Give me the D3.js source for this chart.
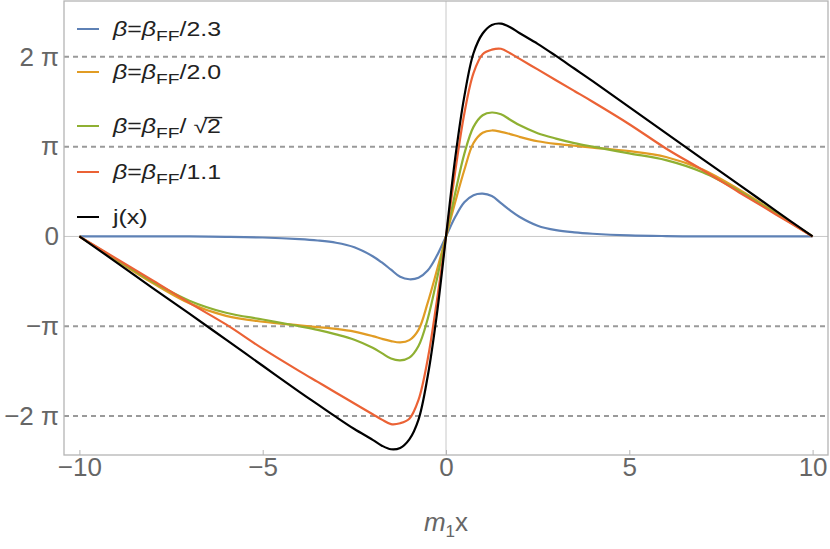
<!DOCTYPE html>
<html>
<head>
<meta charset="utf-8">
<script src="https://cdn.jsdelivr.net/npm/d3@7"></script>
<style>
  body { margin: 0; background: #fff; }
  svg { display: block; font-family: "Liberation Sans", Arial, sans-serif; }
</style>
</head>
<body>
<svg id="chart" width="830" height="549"></svg>
<script>
// x samples (m1 x) and curve values in units of pi
const xVals = [-10, -9, -8, -7, -6, -5, -4, -3.5, -3, -2.5, -2, -1.75, -1.5, -1.25, -1, -0.75, -0.5, -0.25,
  0, 0.25, 0.5, 0.75, 1, 1.25, 1.5, 1.75, 2, 2.5, 3, 3.5, 4, 5, 6, 7, 8, 9, 10];

const beta23 = [0, 0, 0, 0, -0.004, -0.012, -0.03, -0.045, -0.07, -0.12, -0.22, -0.29, -0.37, -0.45, -0.477, -0.46, -0.38, -0.216,
  0, 0.216, 0.38, 0.46, 0.477, 0.45, 0.37, 0.29, 0.22, 0.12, 0.07, 0.045, 0.03, 0.012, 0.004, 0, 0, 0, 0];

const beta20 = [0, -0.265, -0.52, -0.745, -0.885, -0.95, -0.99, -1.01, -1.03, -1.06, -1.11, -1.14, -1.165, -1.18, -1.155, -1.04, -0.74, -0.38,
  0, 0.38, 0.74, 1.04, 1.155, 1.18, 1.165, 1.14, 1.11, 1.06, 1.03, 1.01, 0.99, 0.95, 0.885, 0.745, 0.52, 0.265, 0];

const betaSqrt2 = [0, -0.255, -0.505, -0.715, -0.85, -0.925, -1.0, -1.04, -1.09, -1.15, -1.24, -1.30, -1.36, -1.38, -1.35, -1.22, -0.92, -0.48,
  0, 0.48, 0.92, 1.22, 1.35, 1.38, 1.36, 1.30, 1.24, 1.15, 1.09, 1.04, 1.0, 0.925, 0.85, 0.715, 0.505, 0.255, 0];

const beta11 = [0, -0.245, -0.49, -0.74, -0.98, -1.25, -1.50, -1.62, -1.74, -1.86, -1.98, -2.04, -2.09, -2.08, -2.03, -1.82, -1.37, -0.72,
  0, 0.72, 1.37, 1.82, 2.03, 2.08, 2.09, 2.04, 1.98, 1.86, 1.74, 1.62, 1.50, 1.25, 0.98, 0.74, 0.49, 0.245, 0];

const jx = [0, -0.285, -0.575, -0.86, -1.15, -1.44, -1.73, -1.87, -2.01, -2.145, -2.265, -2.33, -2.37, -2.355, -2.26, -2.04, -1.56, -0.87,
  0, 0.87, 1.56, 2.04, 2.26, 2.355, 2.37, 2.33, 2.265, 2.145, 2.01, 1.87, 1.73, 1.44, 1.15, 0.86, 0.575, 0.285, 0];

const xTicks = [-10, -5, 0, 5, 10];
const yTicks = [-2, -1, 0, 1, 2];
const yTickLabels = ["\u22122 \u03c0", "\u2212\u03c0", "0", "\u03c0", "2 \u03c0"];
const gridLevels = [-2, -1, 1, 2];

const legendLabels = ["2.3", "2.0", "sqrt2", "1.1", "j(x)"];

const series = [
  { values: beta23, color: "#5e81b5" },
  { values: beta20, color: "#e19c24" },
  { values: betaSqrt2, color: "#8fb032" },
  { values: beta11, color: "#eb6235" },
  { values: jx, color: "#000000" }
];

function drawChart () {
  const svg = d3.select("#chart");

  const frame = { left: 64, right: 828, top: 1, bottom: 455 };

  const x = d3.scaleLinear().domain([-10.42, 10.42]).range([frame.left, frame.right]);
  const y = d3.scaleLinear().domain([-2.434, 2.622]).range([frame.bottom, frame.top]);

  // zero axes
  svg.append("line")
    .attr("x1", x(0)).attr("x2", x(0))
    .attr("y1", frame.top).attr("y2", frame.bottom)
    .attr("stroke", "#c8c8c8").attr("stroke-width", 1);
  svg.append("line")
    .attr("x1", frame.left).attr("x2", frame.right)
    .attr("y1", y(0)).attr("y2", y(0))
    .attr("stroke", "#c8c8c8").attr("stroke-width", 1);

  // dashed grid at multiples of pi
  svg.append("g").selectAll("line")
    .data(gridLevels)
    .join("line")
    .attr("x1", frame.left).attr("x2", frame.right)
    .attr("y1", d => y(d)).attr("y2", d => y(d))
    .attr("stroke", "#9a9a9a")
    .attr("stroke-width", 2)
    .attr("stroke-dasharray", "5,4");

  // frame
  svg.append("rect")
    .attr("x", frame.left).attr("y", frame.top)
    .attr("width", frame.right - frame.left)
    .attr("height", frame.bottom - frame.top)
    .attr("fill", "none")
    .attr("stroke", "#b4b4b4")
    .attr("stroke-width", 1.3);

  // x axis
  const xAxis = svg.append("g")
    .attr("transform", `translate(0, ${frame.bottom})`)
    .call(d3.axisBottom(x).tickValues(xTicks).tickSize(-5).tickPadding(3)
      .tickFormat(d => d < 0 ? "\u2212" + Math.abs(d) : d));
  xAxis.select(".domain").remove();
  xAxis.selectAll(".tick line").attr("stroke", "#b4b4b4");
  xAxis.selectAll(".tick text")
    .attr("fill", "#666")
    .style("font-size", "26px")
    .style("font-family", "'Liberation Sans', Arial, sans-serif");

  // y axis
  const yAxis = svg.append("g")
    .attr("transform", `translate(${frame.left}, 0)`)
    .call(d3.axisLeft(y).tickValues(yTicks).tickSize(0).tickPadding(5)
      .tickFormat((d, i) => yTickLabels[i]));
  yAxis.select(".domain").remove();
  yAxis.selectAll(".tick text")
    .attr("fill", "#666")
    .style("font-size", "26px")
    .style("font-family", "'Liberation Sans', Arial, sans-serif");

  // x label m1 x
  const xl = svg.append("text")
    .attr("x", x(0))
    .attr("y", 531)
    .attr("text-anchor", "middle")
    .attr("fill", "#666")
    .style("font-size", "26px");
  xl.append("tspan").attr("font-style", "italic").text("m");
  xl.append("tspan").attr("dy", 6).style("font-size", "17px").text("1");
  xl.append("tspan").attr("dy", -6).text("x");

  // curves
  const line = d3.line()
    .x((d, i) => x(xVals[i]))
    .y(d => y(d))
    .curve(d3.curveCatmullRom.alpha(0.5));

  svg.append("g").selectAll("path")
    .data(series)
    .join("path")
    .attr("d", d => line(d.values))
    .attr("fill", "none")
    .attr("stroke", d => d.color)
    .attr("stroke-width", 2.2)
    .attr("stroke-linejoin", "round");

  // legend (text drawn a bit wide, like the original)
  const legendY = [29, 72, 126, 172, 217];
  const legend = svg.append("g").attr("font-size", "19.5px").attr("fill", "#222");

  series.forEach((s, i) => {
    legend.append("line")
      .attr("x1", 77).attr("x2", 99)
      .attr("y1", legendY[i]).attr("y2", legendY[i])
      .attr("stroke", s.color)
      .attr("stroke-width", 2);

    const g = legend.append("g")
      .attr("transform", `translate(113, ${legendY[i] + 7}) scale(1.28, 1)`);
    const t = g.append("text").attr("x", 0).attr("y", 0);

    if (legendLabels[i] === "j(x)") {
      t.text("j(x)");
      return;
    }
    t.append("tspan").attr("font-style", "italic").text("\u03b2");
    t.append("tspan").text("=");
    t.append("tspan").attr("font-style", "italic").text("\u03b2");
    t.append("tspan").attr("dy", 5).style("font-size", "15px").text("FF");
    if (legendLabels[i] === "sqrt2") {
      t.append("tspan").attr("dy", -5).text("/ \u221a");
      const two = t.append("tspan").text("2");
      // overline of the radical
      const bb = t.node().getBBox();
      const ext = two.node().getExtentOfChar(0);
      g.append("line")
        .attr("x1", ext.x - 2).attr("x2", ext.x + ext.width + 1)
        .attr("y1", bb.y + 2).attr("y2", bb.y + 2)
        .attr("stroke", "#222").attr("stroke-width", 1.4);
    } else {
      t.append("tspan").attr("dy", -5).text("/" + legendLabels[i]);
    }
  });
}

drawChart();
</script>
</body>
</html>
